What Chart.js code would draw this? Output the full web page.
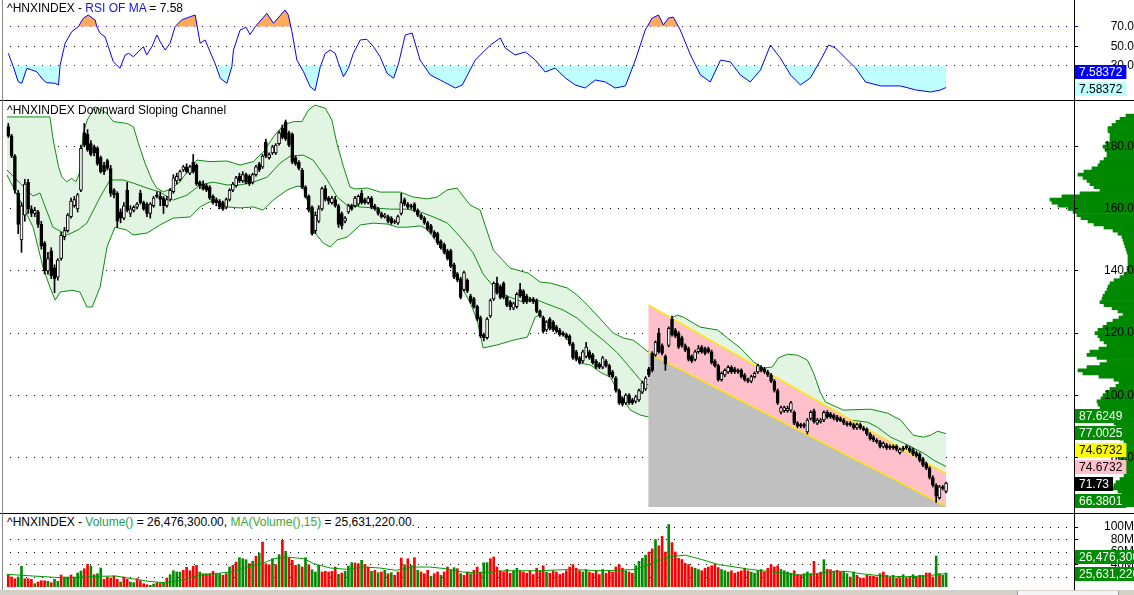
<!DOCTYPE html>
<html>
<head>
<meta charset="utf-8">
<script src="https://cdn.jsdelivr.net/npm/chart.js@4.4.1/dist/chart.umd.min.js"></script>
<style>
html,body{margin:0;padding:0;background:#fff;}
#wrap{position:relative;width:1134px;height:595px;overflow:hidden;background:#fff;font-family:"Liberation Sans",Arial,sans-serif;}
canvas{position:absolute;left:0;}
.ttl{position:absolute;left:7px;font-size:12px;line-height:14px;white-space:nowrap;color:#000;z-index:10;}
.ln{position:absolute;z-index:9;}
</style>
</head>
<body>
<div id="wrap">
  <canvas id="cRsi" width="1134" height="100" style="top:0;z-index:2"></canvas>
  <canvas id="cProf" width="100" height="413" style="top:100px;left:1034px;z-index:1"></canvas>
  <canvas id="cPrice" width="1134" height="413" style="top:100px;z-index:2"></canvas>
  <canvas id="cVol" width="1134" height="77" style="top:513px;z-index:2"></canvas>
  <div class="ln" style="left:0;top:100px;width:1134px;height:1px;background:#000"></div>
  <div class="ln" style="left:0;top:513px;width:1134px;height:1px;background:#000"></div>
  <div class="ln" style="left:1074px;top:0;width:1px;height:590px;background:#000"></div>
  <div class="ln" style="left:2px;top:0;width:1px;height:590px;background:#888"></div>
  <div class="ln" style="left:0;top:590px;width:1134px;height:5px;background:#D4D0C8"></div>
  <div class="ln" style="left:1017px;top:591px;width:100px;height:4px;background:#F4F4F4;border-left:1px solid #999;border-right:1px solid #999"></div>
  <div class="ttl" id="tRsi" style="top:1px"></div>
  <div class="ttl" id="tPrice" style="top:103px">^HNXINDEX Downward Sloping Channel</div>
  <div class="ttl" id="tVol" style="top:515px;background:#fff"></div>
</div>
<script>
// ---------------- DATA ----------------
const opens = [
186.5,183.5,177,165,150,158,168.5,160,158.5,159,
155,149,140,146.5,141,138,144,151,153,157.5,
161,160,166,184.5,184,181,180,179.5,176.5,174,
175.5,173,166,165,159,157,166,158.5,159.5,160.5,
165,162,161.5,158.5,161,164.5,164,163.5,161,163,
165.5,169,169.5,172.5,173.5,171.5,175,174,168.5,168,
167.5,167,164,163,162.5,162,160.5,163,166,167.5,
170.5,169,171,170.5,168.5,171,174.5,173.5,181.5,176.5,
178,178,181,186,188,184.5,184,176.5,175,172.5,
167,164,160.5,153,156,160,166.5,163.5,162,163,
161,158.5,156,159,161,161,161.5,165,163,162,
163.5,161,160,158.5,157.5,157.5,157,156,155.5,158.5,
163,161.5,161,161.5,159.5,158,157,155.5,154.5,152.5,
152,149.5,148.5,146.5,146.5,142,139,137.5,134,137,
132,131,128.5,125,119.5,118.5,125.5,131,136,135,
136,131.5,130,128,128.5,134,133.5,132,131,131,
130.5,127,125,121,124.5,123.5,122,121,120,119.5,
119,116.5,114,112,111,112.5,114,113,111,110,
109,111,109.5,107.5,105.5,101.5,99,97.5,100,98.5,
98,98.5,101,102,108.5,113.5,113,120,116,112.5,
116,124.5,121,120,118.5,116,115,112.5,111.5,114,
115.5,115,115,114,111,109.5,105,106.5,107.5,109,
108.5,108,108,106.5,105,104.5,106,107.5,109,108.5,
107.5,106.5,104.5,101.5,94.5,95,95,95.2,94.5,91,
90.5,90.5,88.2,92.5,95,91,91.5,92,94.5,94,
93.5,93,92.5,92,91,91,90.5,89.5,90.5,89.5,
89,87.5,86.5,85.5,85,83.5,84,83.5,83.5,83.5,
81.5,83,83.5,83,82.5,81.5,81,79.5,78,76.5,
73.5,71,67,70.5,69];
const highs = [
187.5,184,177.5,166,162,169.5,169.5,161,160.5,159.5,
156,149.5,146,147.5,142,144,152.5,154,158.5,163.5,
164,165,180.5,187.5,185.5,182,180.5,180,177,175,
176,174,166.5,165.5,160,162,168.5,161,161,162,
166,162.5,162,162,164,165.5,165.5,164,164,166.5,
171,171.5,172.5,174,174.5,174,177.5,174.5,169,169,
168,167.5,164.5,163.5,163,162.5,163.5,166.5,168.5,170.5,
171.5,172,171.5,171,171.5,174,175,177.5,182.5,178,
180.5,181,185,187,188.6,185,184.5,177,175.5,173,
167.5,164.5,161,159,161,167,167.5,164,164,164,
161.5,159,157.5,161.5,161.5,164,164.5,166,163.5,164,
164,161.5,160.5,159,158.5,158,157.5,156.5,158,165,
163.5,162,161.5,162,160,158.5,157.5,156,155,153,
152.5,150,149,147,147,142.5,139.5,138,140,137.5,
132.5,131.5,129,125.5,120,125,131,136.5,138,135.5,
136.5,132,130.5,130,133,136,134,132.5,131.5,131.5,
131,127.5,125.5,124,125,124,122.5,121.5,120.5,120,
119.5,117,114.5,112.5,114.5,117,114.5,113.5,111.5,110.5,
112.5,111.5,110,108,106,102,99.5,100.5,100.5,99,
100,102,104.5,106,109,114,117.5,121.5,116.5,113,
122,125.5,121.5,120.5,119,116.5,115.5,113,114.5,116,
116,115.5,115.5,114.5,111.5,110,107.5,108.5,109.5,109.5,
109,108.5,108.5,107,105.5,106.5,107.5,110,109.5,109,
108,107,105,102,96.5,96.5,96.5,98,95,91.5,
91,91,92.5,95,95.5,92.5,92.5,95,95,94.5,
94,93.5,93,92.5,91.5,91.5,91,91,91,90,
89.5,88,87,86,85.5,85,84.5,84,84,84,
83,83.5,84,83.5,83,82,81.5,80,78.5,77,
74,71.5,71,71,72];
const lows = [
183,176.5,165,152,146,156,158.5,157.5,157.5,154,
147,139,139,137.5,133,137,143.5,150,152.5,157,
160.5,159,165.5,180,178.5,177,177,174,171.5,171,
172.5,164,163.5,154,155.5,156.5,159,157.5,159,160,
161.5,159.5,157.5,157,160.5,163.5,161,158.5,160.5,162.5,
165,168,169,172,171.5,171,171.5,167.5,166.5,166,
165.5,163,161.5,161,160,159.5,160,162.5,165.5,167,
168.5,168.5,168,167.5,168,170.5,172,173,176.5,176,
177.5,177.5,180.5,182.5,182,180,174.5,174,172.5,166.5,
163.5,159,151.5,152,155.5,159.5,162.5,161.5,161.5,160.5,
154,153.5,155.5,158.5,159.5,160.5,161,161.5,161.5,161.5,
160,159.5,158,157,157,155.5,155,155.2,155,158,
161,160,160,159,157.5,156.5,155,153,152,150.5,
148.5,147,145.5,143.5,141,137.5,136.5,131,133.5,133,
129.5,128,124,118.5,117.5,118,125,130.5,132.5,131,
131,128.5,127.5,127.5,128,131.5,129.5,129.5,130,129.5,
126.5,125,120,120.5,121,120.5,120,119,119,118,
116,111.5,111,110,110.5,112,111.5,110,108.5,108.5,
108.5,109,106,105.5,101,97,96.5,97,97,97,
97.5,98,100.5,101.5,106,107.5,112.5,113.5,113,108,
115.5,119,118.5,115,115.5,114,111,110.5,111,113.5,
113.5,113,113.5,110,109,104.5,104.5,106,107,107,
107,107,105.5,104.5,104,104,105.5,107,107.5,107,
106,104,101,97,94,94.5,94.5,94.5,90.5,89.5,
89.5,89.5,87.5,92,91,90.5,91,91.5,92.5,92.5,
92,91.5,91.5,90.5,90,90,89,89,89,88.5,
87,85.5,85,84.5,83,83,82.5,82.5,82.5,82,
81,82,82.5,81.5,80.5,80,78.5,77,76,73,
70.5,65.5,66.5,69.5,68.5];
const closes = [
183.5,177,166,155,161,168,160,158.5,159.5,155,
148,140,144,138.5,137.5,143.5,151.5,153,158,162.5,
163,164.5,179.5,180.5,179,177.5,178,174.5,172,172,
173,165,164.5,156,157,161,159.5,160,160.5,161.5,
162,160,158.5,161.5,163.5,164,163,161,163,166,
170,170.5,172,173.5,172,173.5,172,168,167.5,166.5,
166,163.5,162,162,160.5,160,163,166,168,170,
169,171,168.5,168,171,173.5,172.5,177,177,177.5,
180,180.5,184.5,183,182.5,180.5,175,174.5,173,167,
163.8,159.6,152,158,160,166.5,163,162.5,163.5,161,
155,154.5,157,161,160,163.5,164,162,162,163.5,
160.5,160,158.5,157.5,158,156,155.5,155.8,157.5,162,
161.5,160.5,160.5,159.5,158,157,155.5,153.5,152.5,151,
149,147.5,146,144,141.5,138,137,131.5,139.5,133.5,
130,128.5,124.5,119,118.5,124.5,130.5,136,133,131.5,
131.5,129,128.5,129.5,132.5,132,130,130,130.5,130,
127,125.5,120.5,123.5,121.5,121,120.5,119.5,119.5,118.5,
116.5,112,111.5,110.5,114,115.5,112,110.5,109,109,
112,109.5,106.5,106,101.5,97.5,97,100,97.5,97.5,
99.5,101.5,104,105.5,106.5,108,117,114,113.5,110,
121.5,119.5,119,115.5,116,114.5,111.5,111,114,115,
114,113.5,114,110.5,109.5,105,107,108,109,107.5,
107.5,107.5,106,105,104.5,106,107,109.5,108,107.5,
106.5,104.5,101.5,97.5,96,96,95.8,97.5,91,90,
90,90,92,94.5,91.5,92,92,94.5,93,93,
92.5,92,91.8,91,90.5,90.5,89.5,90.5,89.5,88.8,
87.5,86,85.5,85,83.5,84.5,83,83,83,82.5,
82.5,82.5,83,82,81,80.5,79,77.5,76.5,73.5,
71,67.5,70.5,70,71.73];

// Bollinger bands: [bar, value]
const bbUpper = [[-0.4,189.6],[12.6,189.6],[13.6,182.2],[15.2,173.6],[16.2,170.3],[17.7,168.7],[19.2,169.8],[20.5,168.7],[21.7,171.9],[22.7,184.3],[23.9,188.6],[26.3,192.9],[29.8,190.8],[31.8,188.1],[35.9,187.5],[37.9,186.4],[39.4,181.1],[41.4,174.7],[43.5,169.3],[45,166.6],[47,165.5],[49,166.3],[52,168.7],[54.5,172.5],[57.1,175.7],[61.1,175.2],[66.2,175.4],[70.2,174.1],[74.2,175.2],[77.3,178.4],[80.3,183.2],[83.3,187.0],[86.4,188.1],[88.9,188.1],[90.9,191.8],[92.9,193.4],[96,192.4],[98,188.6],[99.5,181.1],[101.5,173.6],[103.5,167.0],[105.1,166.4],[108.7,166.7],[112.6,165.4],[118.7,165.4],[122.6,163.8],[126.9,163.2],[129.9,163.8],[132.9,166.1],[135.9,166.7],[137.5,164.4],[139.9,161.2],[142.9,159.6],[146.9,146.7],[152,140.9],[157.5,139.3],[161.1,136.4],[164.2,136.1],[169.3,134.5],[172.3,132.2],[175.4,129.0],[180.2,123.5],[183.2,120.0],[186.3,118.4],[189.3,117.7],[192.3,115.2],[193.8,113.9],[198.4,123.5],[202.6,125.8],[204.5,125.1],[207.5,123.2],[209.6,121.9],[214.8,121.0],[217.8,118.4],[221.7,115.2],[225.7,110.7],[228.7,108.7],[231.4,109.1],[233.2,112.0],[236,113.2],[239,112.9],[242,111.3],[243.9,107.1],[246,100.7],[247.5,97.8],[252.9,95.2],[261.1,95.5],[266.3,94.2],[270.2,92.0],[274.1,87.1],[277.2,86.5],[279.3,87.1],[281.4,88.4],[284,87.6249]];
const bbMid = [[-0.4,172.5],[3.5,168.3],[7.5,164.1],[9.6,165.1],[13.5,154.1],[17.8,151.6],[21.1,153.2],[23.8,155.4],[27.8,163.8],[30.8,169.3],[34.8,169.3],[37.8,168.3],[42,166.7],[45.9,165.4],[49.9,162.8],[54.1,164.4],[58.1,167.7],[62,168.6],[66.3,167.7],[70.2,167.7],[74.2,168.6],[78.4,170.2],[82.3,174.7],[85.4,177.0],[89.3,177.3],[92.3,175.7],[96.6,169.3],[99.6,163.8],[102.6,161.2],[106.6,160.6],[110.5,160.3],[115.7,159.9],[120.8,159.9],[124.8,159.0],[128.7,157.4],[133,155.4],[136.9,150.9],[140.8,145.8],[143.8,139.0],[148.1,133.5],[152,131.5],[155.9,130.0],[160.2,130.6],[164.1,129.0],[168.1,127.4],[172.3,124.8],[176.3,121.0],[180.2,117.7],[184.5,113.6],[188.4,108.7],[191.4,104.9],[193.8,103.3],[203.5,103.3],[209.6,106.5],[224.8,104.9],[239.9,98.4],[249,95.2],[255.1,92.0],[260.2,91.3],[263.2,89.7],[267.2,86.5],[271.1,84.6],[274.1,83.0],[277.2,81.3],[280.2,79.1],[284,77.0025]];
const bbLower = [[-0.4,170.9],[3.5,162.8],[7.5,154.1],[10.5,141.2],[12.6,134.8],[14.2,130.6],[15.7,133.2],[19.3,133.8],[21.7,133.2],[23.8,128.4],[25.4,128.4],[27.8,134.8],[29.9,147.7],[32.3,154.1],[35.8,153.2],[37.8,151.6],[42,152.2],[45.9,154.8],[49.9,157.0],[55.1,157.4],[58.1,160.6],[62,162.8],[66.3,160.6],[70.2,160.3],[74.2,160.6],[77.2,159.6],[80.2,162.8],[84.5,166.1],[87.5,167.3],[89.3,167.0],[91.4,159.6],[92.9,152.2],[95.4,149.0],[97.5,147.7],[99.6,150.0],[102.6,150.9],[106.6,154.8],[110.5,155.4],[114.8,155.1],[117.8,154.1],[120.8,154.1],[124.8,154.5],[126.3,153.8],[128.7,150.9],[131.7,146.7],[134.8,141.3],[137.8,133.8],[139.9,129.7],[142,124.2],[143.8,115.2],[148.1,116.2],[152.9,117.7],[157.2,118.7],[159.6,125.2],[161.1,125.8],[164.2,121.9],[168.1,119.4],[170.2,116.8],[173.2,110.3],[176.3,109.7],[179.3,107.4],[182.3,105.8],[184.5,101.6],[186.3,98.4],[188.4,95.2],[191.4,93.6],[193.8,93.0],[209.6,95.2],[224.8,93.6],[239.9,85.5],[255.1,77.5],[270.2,72.7],[284,66.3801]];

// Downward sloping channel lines: [bar, value]
const channelUpper = [[193.8,129.1],[284,74.6732]];
const channelLower = [[193.8,113.6],[284,64.3]];

// RSI of MA: [bar, value]
const rsiData = [[0,42.7],[1.5,29.0],[3,13.6],[4.1,11.9],[5.6,27.3],[7.1,25.6],[8.6,23.8],[10.6,15.3],[11.6,12.6],[14.2,11.9],[15.2,10.2],[15.7,30.7],[17.2,53.0],[19.2,64.9],[21.2,70.0],[22.7,78.6],[24.2,82.0],[26.3,76.9],[26.8,70.0],[27.8,63.2],[29.3,59.7],[30.3,49.5],[31.8,34.1],[33.8,27.3],[35.4,41.0],[36.4,42.7],[37.9,39.2],[39.4,44.4],[40.9,49.5],[41.9,41.0],[43.5,49.5],[45,61.5],[46,54.6],[47.5,46.1],[49,53.0],[50.5,70.0],[52.5,76.9],[55.1,80.3],[56.6,82.0],[58.1,53.0],[59.6,56.4],[61.1,44.4],[62.6,32.5],[64.2,17.1],[66.2,11.9],[67.7,29.0],[68.2,46.1],[70.2,66.6],[72,69.5],[73.2,62.0],[74.8,70.0],[78.3,83.7],[80.3,73.5],[83.8,87.1],[84.8,82.0],[85.9,64.9],[87.4,35.8],[89.4,23.8],[91.4,8.5],[92.9,4.4],[94.5,29.0],[96,42.7],[97.5,46.1],[99,42.7],[100,32.5],[101.5,18.7],[103,27.3],[104.5,42.7],[106.6,56.4],[108.6,57.1],[110.6,49.5],[112.6,39.2],[114.7,22.2],[116.7,17.1],[118.2,32.5],[120.2,61.5],[122.3,63.5],[124.7,35.8],[127.8,20.5],[130.8,15.3],[135.4,7.1],[137.5,10.2],[141.4,35.8],[146,51.2],[149,58.4],[150.5,48.2],[153.5,41.0],[156.6,44.1],[159.6,35.8],[162.6,23.5],[165.6,27.6],[168.7,17.4],[171.7,10.2],[174.7,7.1],[177.8,15.3],[180.8,13.3],[183.8,7.1],[186.9,9.2],[189.9,35.8],[192.9,66.6],[195,78.9],[196.9,82.0],[198.4,71.7],[199.9,78.9],[201.4,79.9],[203.5,66.6],[206.6,41.0],[209.6,20.5],[212.6,13.3],[215.7,35.8],[218.7,33.8],[221.7,20.5],[224.7,13.3],[227.8,25.6],[230.8,51.2],[233.8,37.9],[236.9,20.5],[239.9,10.2],[242.9,17.4],[246,35.8],[248.4,51.2],[250.5,48.2],[253.5,37.9],[256.6,27.6],[259.6,13.3],[264.2,9.2],[270.2,9.2],[274.8,5.1],[279.3,3.0],[282.3,5.1],[284,7.58372]];
const rsiTicks = [30, 50, 70];

// Volume in millions, and up(G)/down(R) colour flags
const volumes = [
22.7,20.0,17.3,20.0,37.1,17.3,17.3,16.3,9.3,12.0,
14.1,14.1,13.1,10.9,16.3,13.1,23.2,20.0,20.0,23.2,
20.0,26.4,29.6,33.3,40.3,37.6,23.7,25.3,34.4,16.3,
20.0,18.4,21.6,16.3,12.0,20.0,16.3,12.0,10.9,17.3,
14.1,9.3,7.7,6.7,8.8,10.9,9.9,10.9,18.4,23.7,
30.1,28.0,28.0,30.7,35.5,30.1,37.1,38.7,28.0,25.3,
25.3,25.3,29.1,24.3,25.3,22.7,25.3,36.0,38.7,44.0,
50.9,49.3,47.7,41.3,45.1,53.1,58.4,76.0,41.3,39.7,
49.3,39.7,55.7,78.7,61.1,50.9,46.7,38.7,39.7,36.0,
50.9,39.7,31.7,28.0,38.7,28.0,29.1,28.0,29.1,36.0,
24.3,26.4,29.1,37.6,42.9,42.4,41.3,46.7,40.3,36.0,
29.1,30.7,26.9,28.0,30.7,25.3,26.9,22.7,28.0,50.4,
39.7,49.3,38.7,50.9,30.7,28.0,25.3,30.7,21.1,25.3,
28.0,22.7,28.0,36.0,30.7,34.9,33.3,25.3,22.7,28.0,
25.3,30.7,36.0,28.0,42.9,42.9,49.3,52.0,
36,30,28,32,26,30,34,30,28,26,30,24,34,
30,38,28,26,30,28,24,26,30,36,40,34,30,28,32,
28,26,30,24,32,26,30,28,36,40,34,30,28,26,38,
45,50,55,60,65,80,70,85,60,104,75,60,50,48,42,40,
36,34,32,30,34,36,38,40,35,32,30,28,30,26,28,30,34,30,28,26,30,32,28,34,40,36,38,32,30,28,26,30,24,
23.7,25.3,28.0,25.3,45.1,25.3,28.0,47.7,32.3,31.7,
29.1,30.7,28.0,29.1,25.3,20.0,28.0,22.7,18.4,18.4,
22.7,21.6,21.1,20.0,25.3,28.0,22.7,20.0,22.7,18.4,
18.9,23.7,18.4,21.1,23.7,20.0,22.7,22.7,26.4,26.4,
20.0,53.6,25.3,22.7,26.4763];
const volDir = "RRRGGRRRGR"+"RRGRGGRGGR"+"GGGRRGRGGR"+"RRRRGRRGGR"+"RRRGGRRGRG"+"GGGRRRRRGR"+"RRRGGRRGRR"+"GGGRGRGRRR"+"GRGRGRRRGR"+"GRGGGRRRRR"+"GRGGGRRGRR"+"GRGRGRGRRR"+"GRGRGRRRGR"+"RGRRGGRGRR"+"GRRRGGRR"+
  "RRRRRGGRRR"+"RRRRRGRRRR"+"RRRRRRGGRR"+"RRGRRRRRRG"+"RRGGGGRRGR"+"RRGRRRRRRR"+"GGRRRRRRGG"+"GRRRRRRGGG"+"RRRRRRGGGG"+"RR"+
  "RGGRRRRGRR"+"GRRGGRGRRR"+"RRRRGRRRGR"+"RGRRGRRGRR"+"RGRGG";
// 15-bar moving average of volume (millions): [bar, value]
const volMA = [[-0.5,24.3],[7.5,21.6],[17.5,18.4],[27.5,21.1],[32.5,21.6],[37.5,17.3],[42.5,13.1],[47.5,10.9],[52.5,14.7],[57.5,22.7],[62.5,25.3],[67.5,28.0],[72.5,36.0],[77.5,42.9],[80.5,49.3],[84.5,52.0],[87.5,50.4],[89.5,49.3],[92.5,41.3],[97.5,34.4],[102.5,32.3],[107.5,36.0],[112.5,34.4],[117.5,30.7],[122.5,36.0],[127.5,36.0],[132.5,33.3],[137.5,28.0],[142.5,26.4],[147,28.0],[150,30],[160,30],[170,32],[180,30],[190,32],[195,42],[200,52],[205,55],[210,48],[215,40],[225,32],[235,26],[240,22.7],[245,25.3],[250,29.1],[254,29.1],[258,25.3],[265,21.6],[272,20.5],[278,21.6],[284,25.63122]];

// Volume-at-price profile: price level and relative volume
const profileLevels = [190,189,188,187,186,185,184,183,182,181,180,179,178,177,176,175,174,173,172,171,170,169,168,167,166,165,164,163,162,161,160,159,158,157,156,155,154,153,152,151,150,149,148,147,146,145,144,143,142,141,140,139,138,137,136,135,134,133,132,131,130,129,128,127,126,125,124,123,122,121,120,119,118,117,116,115,114,113,112,111,110,109,108,107,106,105,104,103,102,101,100,99,98,97,96,95,94,93,92,91,90,89,88,87,86,85,84,83,82,81,80,79,78,77,76,75,74,73,72,71,70,69,68,67,66,65,64];
const profileVol = [8,14,18,22,26,26,24,24,24,28,31,29,27,27,30,34,36,42,50,56,51,47,44,40,34,54,72,84,82,76,66,61,57,53,46,40,30,21,16,12,11,10,9,8,7,6,6,6,6,7,7,10,14,20,24,26,27,29,31,32,34,30,22,16,11,15,21,27,31,36,39,36,34,30,27,35,44,47,37,27,34,47,56,51,35,20,15,18,24,28,31,33,37,36,34,30,28,25,22,20,18,16,15,14,14,10,8,10,12,14,16,14,12,10,9,8,10,14,18,20,21,16,12,10,12,16,20];

const priceTicksStep = 20, volTicksStep = 20;

// ---------------- LAYOUT / HELPERS ----------------
const X_MIN = -1.908, X_MAX = 322.74;
const FONT = '"Liberation Sans", Arial, sans-serif';
Chart.defaults.font.family = FONT;
Chart.defaults.font.size = 12;
Chart.defaults.color = '#000';

const pts = arr => arr.map(p => ({x: p[0], y: p[1]}));
const fmt6 = v => String(parseFloat(v.toPrecision(6)));
const last = arr => arr[arr.length - 1][1];

function tagPlugin(items) {
  return {
    id: 'valueTags',
    afterDraw(chart) {
      const sc = chart.scales.y, ctx = chart.ctx, left = chart.chartArea.right + 1;
      const H = 14, GAP = 17;
      const list = items.map(t => Object.assign({}, t, {py: sc.getPixelForValue(t.value)}));
      list.sort((a, b) => b.py - a.py);
      let limit = Infinity;
      list.forEach(t => { t.cy = Math.min(t.py, limit); limit = t.cy - GAP; });
      ctx.save();
      ctx.font = '12px ' + FONT;
      ctx.textBaseline = 'middle';
      list.forEach(t => {
        const w = ctx.measureText(t.text).width + 8;
        const top = Math.round(t.cy - H / 2 + 1);
        ctx.fillStyle = t.bg; ctx.fillRect(left, top, w, H);
        ctx.fillStyle = t.fg; ctx.fillText(t.text, left + 4, top + H / 2 + 0.5);
      });
      ctx.restore();
    }
  };
}

function yAxis(min, max, pad, extra) {
  const cfg = {
    type: 'linear', position: 'right', min: min, max: max,
    grid: {color: '#000', tickColor: '#000', lineWidth: 1, drawTicks: true, tickLength: 4},
    border: {display: true, color: '#000', width: 1, dash: [1, 7]},
    ticks: {includeBounds: false, autoSkip: false, crossAlign: 'far', padding: pad, color: '#000', font: {size: 12}},
    afterFit(s) { s.width = 60; s.paddingTop = 0; s.paddingBottom = 0; }
  };
  if (extra) {
    if (extra.ticks) Object.assign(cfg.ticks, extra.ticks);
    if (extra.grid) Object.assign(cfg.grid, extra.grid);
    if (extra.afterBuildTicks) cfg.afterBuildTicks = extra.afterBuildTicks;
  }
  return cfg;
}

function opts(yCfg, padding) {
  return {
    responsive: false, animation: false, devicePixelRatio: 1, events: [],
    layout: {padding: padding},
    plugins: {legend: {display: false}, tooltip: {enabled: false}},
    scales: {x: {type: 'linear', min: X_MIN, max: X_MAX, display: false, offset: false}, y: yCfg}
  };
}

const idx = closes.map((_, i) => i);
const GREEN = '#008C00';

// ---------------- RSI PANEL ----------------
const rsiLast = last(rsiData);
document.getElementById('tRsi').innerHTML =
  '^HNXINDEX - <span style="color:#1515E6">RSI OF MA</span> = ' + rsiLast.toFixed(2);
const rsiGridColor = c => (c.tick && c.tick.value === 50) ? '#000' : '#0000FF';
new Chart(document.getElementById('cRsi'), {
  type: 'line',
  data: {datasets: [
    {data: pts(rsiData), borderColor: '#0000FF', borderWidth: 1, pointRadius: 0, fill: false, order: 0},
    {data: pts(rsiData), borderWidth: 0, pointRadius: 0, order: 1,
     fill: {target: {value: 70}, above: '#FFAA5A', below: 'rgba(0,0,0,0)'}},
    {data: pts(rsiData), borderWidth: 0, pointRadius: 0, order: 2,
     fill: {target: {value: 30}, above: 'rgba(0,0,0,0)', below: '#C0FFFF'}}
  ]},
  options: opts(yAxis(-4.2, 96.4, 32, {
    afterBuildTicks(s) { s.ticks = rsiTicks.map(v => ({value: v})); },
    ticks: {callback: v => Number(v).toFixed(1)},
    grid: {color: rsiGridColor, tickColor: rsiGridColor}
  }), {left: 2, right: 0, top: 1, bottom: 1}),
  plugins: [tagPlugin([
    {value: rsiLast, text: fmt6(rsiLast), bg: '#C0FFFF', fg: '#000'},
    {value: rsiLast, text: fmt6(rsiLast), bg: '#0000FF', fg: '#FFF'}
  ])]
});

// ---------------- PRICE PANEL ----------------
const P_MIN = 64.0, P_MAX = 194.4;
new Chart(document.getElementById('cProf'), {
  type: 'bar',
  data: {datasets: [{
    data: profileLevels.map((p, k) => ({x: profileVol[k], y: p})),
    backgroundColor: '#008800', borderWidth: 0, barPercentage: 1, categoryPercentage: 1
  }]},
  options: {
    indexAxis: 'y', responsive: false, animation: false, devicePixelRatio: 1, events: [],
    layout: {padding: {left: 0, right: 0, top: 2, bottom: 6}},
    plugins: {legend: {display: false}, tooltip: {enabled: false}},
    scales: {
      x: {type: 'linear', min: 0, max: 100, reverse: true, display: false},
      y: {type: 'linear', min: P_MIN, max: P_MAX, display: false, offset: false}
    }
  }
});

const bodyColors = idx.map(i => closes[i] >= opens[i] ? '#FFFFFF' : '#000000');
new Chart(document.getElementById('cPrice'), {
  type: 'line',
  data: {datasets: [
    {type: 'bar', data: idx.map(i => ({x: i, y: [opens[i], closes[i]]})), backgroundColor: bodyColors,
     borderColor: '#000', borderWidth: 1, borderSkipped: false, barThickness: 3, grouped: false, order: 0},
    {type: 'bar', data: idx.map(i => ({x: i, y: [lows[i], highs[i]]})), backgroundColor: '#000',
     borderWidth: 0, barThickness: 1, grouped: false, order: 1},
    {data: pts(channelUpper), borderColor: '#FFE800', borderWidth: 1.5, pointRadius: 0, fill: false, order: 2},
    {data: pts(channelLower), borderColor: '#FFE800', borderWidth: 1.5, pointRadius: 0, fill: false, order: 3},
    {data: pts(channelUpper), borderWidth: 0, pointRadius: 0, fill: 5, backgroundColor: '#FFC0CB', order: 4},
    {data: pts(channelLower), borderWidth: 0, pointRadius: 0, fill: 'start', backgroundColor: '#C0C0C0', order: 5},
    {data: pts(bbUpper), borderColor: '#118A11', borderWidth: 1, pointRadius: 0, fill: false, order: 6},
    {data: pts(bbMid), borderColor: '#118A11', borderWidth: 1, pointRadius: 0, fill: false, order: 7},
    {data: pts(bbLower), borderColor: '#118A11', borderWidth: 1, pointRadius: 0, fill: false, order: 8},
    {data: pts(bbUpper), borderWidth: 0, pointRadius: 0, fill: 10, backgroundColor: '#E2F4E2', order: 9},
    {data: pts(bbLower), borderWidth: 0, pointRadius: 0, fill: false, order: 10}
  ]},
  options: opts(yAxis(P_MIN, P_MAX, 25, {ticks: {stepSize: priceTicksStep, callback: v => Number(v).toFixed(1)}}),
    {left: 2, right: 0, top: 2, bottom: 6}),
  plugins: [tagPlugin([
    {value: last(bbLower), text: fmt6(last(bbLower)), bg: GREEN, fg: '#FFF'},
    {value: closes[closes.length - 1], text: fmt6(closes[closes.length - 1]), bg: '#000', fg: '#FFF'},
    {value: last(channelUpper), text: fmt6(last(channelUpper)), bg: '#FFC0CB', fg: '#000'},
    {value: last(channelUpper), text: fmt6(last(channelUpper)), bg: '#FFFF00', fg: '#000'},
    {value: last(bbMid), text: fmt6(last(bbMid)), bg: GREEN, fg: '#FFF'},
    {value: last(bbUpper), text: fmt6(last(bbUpper)), bg: GREEN, fg: '#FFF'}
  ])]
});

// ---------------- VOLUME PANEL ----------------
const volLast = volumes[volumes.length - 1], maLast = last(volMA);
const f2 = v => (v * 1e6).toLocaleString('en-US', {minimumFractionDigits: 2, maximumFractionDigits: 2});
const f0 = v => (v * 1e6).toLocaleString('en-US', {maximumFractionDigits: 0});
document.getElementById('tVol').innerHTML =
  '^HNXINDEX - <span style="color:#1E9A5A">Volume()</span> = ' + f2(volLast) +
  ', <span style="color:#3AA83A">MA(Volume(),15)</span> = ' + f2(maLast) + '.';
new Chart(document.getElementById('cVol'), {
  type: 'line',
  data: {datasets: [
    {data: pts(volMA), borderColor: '#009900', borderWidth: 1, pointRadius: 0, fill: false, order: 0},
    {type: 'bar', data: idx.map(i => ({x: i, y: volumes[i]})),
     backgroundColor: idx.map(i => volDir[i] === 'G' ? '#008C00' : '#FF0000'),
     borderWidth: 0, barThickness: 2, grouped: false, order: 1}
  ]},
  options: opts(yAxis(4, 119.2, 25, {ticks: {stepSize: volTicksStep, callback: v => v + 'M'}}),
    {left: 2, right: 0, top: 2, bottom: 3}),
  plugins: [tagPlugin([
    {value: maLast, text: f0(maLast), bg: GREEN, fg: '#FFF'},
    {value: volLast, text: f0(volLast), bg: GREEN, fg: '#FFF'}
  ])]
});
</script>
</body>
</html>
